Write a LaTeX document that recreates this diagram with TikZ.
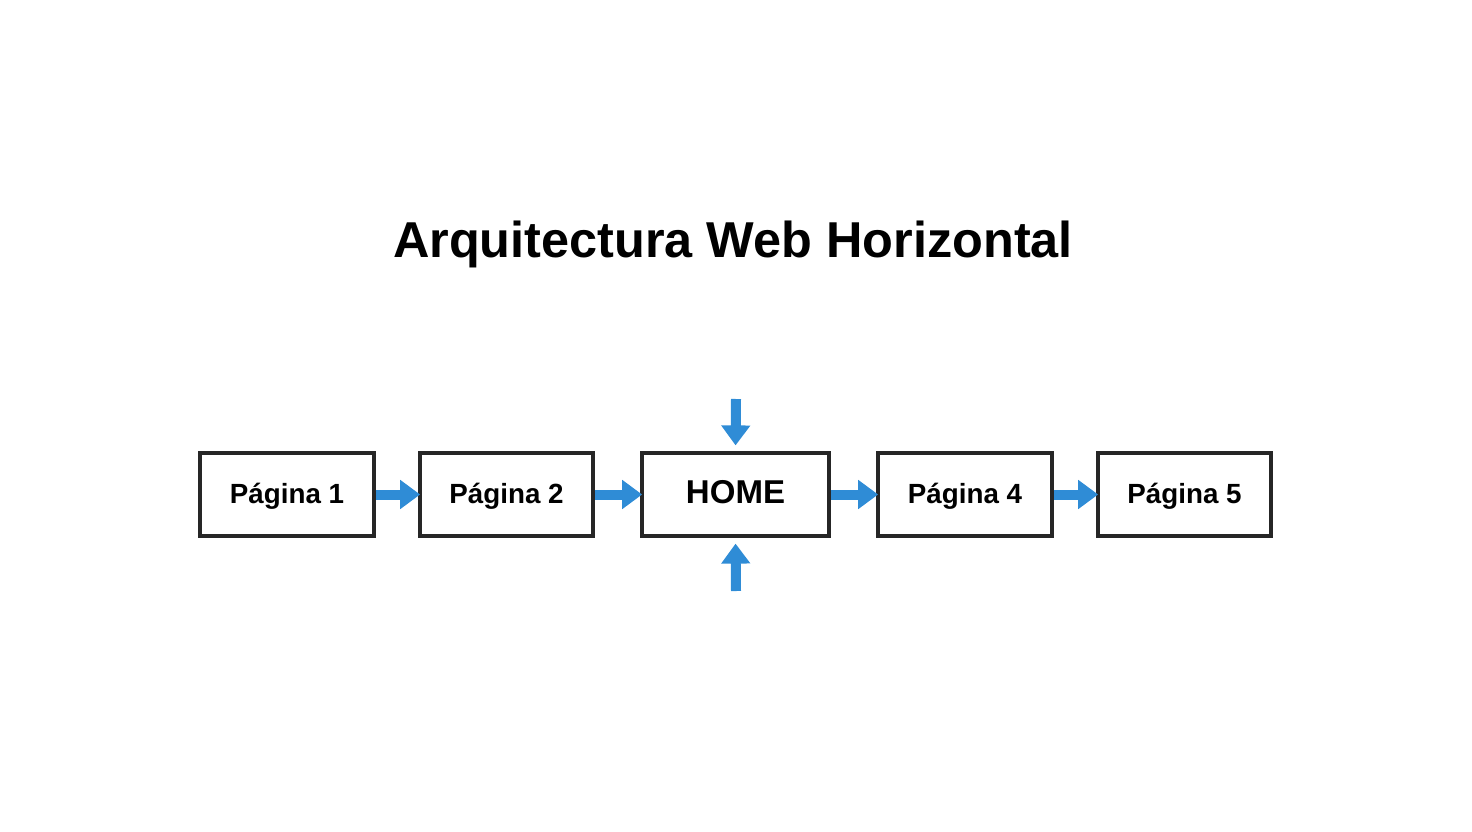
\documentclass[tikz,border=0pt]{standalone}
\usepackage{fontspec}
\setmainfont{Liberation Sans}
\usetikzlibrary{arrows.meta}
\definecolor{arrowblue}{HTML}{2F8CD6}
\begin{document}
\begin{tikzpicture}[x=0.02cm,y=-0.02cm,
  box/.style={draw=black!85,line width=3.2pt*0.569,minimum height=83*0.02cm,inner sep=0pt,text height=1.0em,text depth=0.0em,font=\fontsize{15.8}{18}\selectfont\bfseries},
  flow/.style={draw=arrowblue,line width=10*0.02cm,-{Triangle[length=20*0.02cm,width=28*0.02cm]},shorten >=-1pt}]
\useasboundingbox (0,0) rectangle (1472,832);
\node[font=\fontsize{28.7}{34}\selectfont\bfseries] (title) at (733,244) {Arquitectura Web Horizontal};
\node[box,minimum width=174*0.02cm] (p1) at (287,494.5) {Página 1};
\node[box,minimum width=173*0.02cm] (p2) at (506.5,494.5) {Página 2};
\node[box,minimum width=187*0.02cm,text height=1.08em,font=\fontsize{18.8}{21}\selectfont\bfseries] (home) at (735.5,494.5) {HOME};
\node[box,minimum width=174*0.02cm] (p4) at (965,494.5) {Página 4};
\node[box,minimum width=173*0.02cm] (p5) at (1184.5,494.5) {Página 5};
\coordinate (top) at (736,399);
\coordinate (bot) at (736,591);
\draw[flow] (p1.east) -- (p2.west);
\draw[flow] (p2.east) -- (home.west);
\draw[flow] (home.east) -- (p4.west);
\draw[flow] (p4.east) -- (p5.west);
\draw[flow,shorten >=6*0.02cm] (top) -- (home.north);
\draw[flow,shorten >=6*0.02cm] (bot) -- (home.south);
\end{tikzpicture}
\end{document}
